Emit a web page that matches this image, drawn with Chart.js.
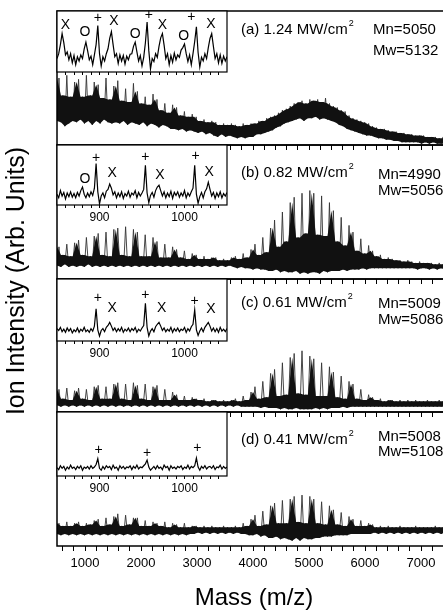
<!DOCTYPE html>
<html>
<head>
<meta charset="utf-8">
<script src="https://cdn.jsdelivr.net/npm/chart.js@4.4.1/dist/chart.umd.min.js"></script>
<style>
  html, body { margin: 0; padding: 0; background: #fff; overflow: hidden; }
  #wrap { position: relative; width: 443px; height: 610px; overflow: hidden; background: #fff; }
  #wrap canvas { position: absolute; left: 0; top: 0; }
</style>
</head>
<body>
<div id="wrap"></div>
<script>
// main spectra: alternating trough / peak read every 35 Da from 500 Da (0-100 = panel height)
const massStart = 500;
const massStep = 35;
const specA = [
  18,50,17,37,14,52,16,36,18,47, 17,49,19,36,16,52,18,37,15,47,
  18,45,16,35,19,50,17,34,16,44, 17,48,16,33,18,42,15,32,17,46,
  16,40,15,31,17,36,14,30,16,38, 15,34,13,26,15,31,14,24,12,30,
  12,28,11,22,12,25,10,21,11,23, 10,21,9,18,10,19,8,17,9,18,
  7,17,6,15,8,16,6,15,7,16, 6,15,5,14,6,16,5,15,6,16,
  6,16,8,18,8,18,9,20,10,21, 11,22,13,24,14,26,16,27,17,29,
  18,31,19,32,20,33,18,31,20,34, 20,33,21,34,19,32,20,35,19,31,
  18,29,17,28,15,26,14,25,12,22, 11,20,10,19,9,18,8,17,7,16,
  7,14,6,13,5,12,5,12,4,11, 4,10,3,10,3,9,2,9,2,8,
  2,8,2,7,2,7,1,7,2,6, 1,6,2,6,1,5,1,6,1,5,
  1
];
const specB = [
  10,24,9,18,11,26,9,17,10,27, 9,29,10,18,9,31,11,17,9,32,
  10,34,9,18,10,35,9,17,10,37, 9,38,10,18,9,39,10,17,9,37,
  10,35,9,17,10,33,9,17,10,31, 9,28,10,16,9,26,10,16,9,24,
  10,22,9,16,10,21,9,15,10,19, 9,18,10,15,9,17,10,15,9,16,
  10,16,9,14,10,15,9,14,10,16, 9,17,8,15,9,19,8,16,8,22,
  7,26,8,18,7,31,7,20,6,38, 6,44,7,24,5,50,6,28,5,57,
  5,61,6,31,4,64,5,34,4,66, 5,64,5,33,4,62,6,32,5,57,
  6,51,6,28,6,46,7,25,6,40, 7,35,7,21,7,30,8,19,7,25,
  8,21,8,17,8,18,8,15,8,16, 8,15,8,14,8,14,8,13,8,14,
  8,13,8,12,7,13,8,12,8,12, 7,12,8,11,7,12,8,11,7,11,
  8
];
const specC = [
  5,17,4,10,5,18,4,9,5,16, 4,18,5,10,4,17,5,9,4,19,
  5,20,4,10,5,19,4,10,5,21, 4,22,5,10,4,21,5,9,4,22,
  5,20,4,10,5,21,4,9,5,19, 4,20,5,9,4,17,5,9,4,15,
  5,13,4,9,5,12,4,9,5,11, 4,10,5,9,4,10,5,8,4,9,
  5,9,4,8,5,9,4,8,5,9, 4,10,5,8,4,12,4,9,4,15,
  4,19,4,10,3,23,4,11,3,29, 3,32,3,12,2,37,3,13,2,41,
  2,44,3,14,2,46,2,13,2,42, 2,40,3,12,2,37,3,12,2,34,
  3,30,3,11,3,27,4,10,3,23, 4,21,4,10,4,17,4,9,4,13,
  4,11,4,9,4,10,4,8,4,9, 4,9,4,8,4,9,4,8,4,9,
  4,8,4,9,4,8,4,8,4,9, 4,8,4,8,4,9,4,8,4,8,
  4
];
const specD = [
  9,17,8,15,9,18,8,15,9,17, 8,18,9,15,8,17,9,16,8,19,
  9,20,8,15,9,21,8,16,9,22, 8,24,9,15,8,23,9,16,8,21,
  9,21,8,15,9,19,8,15,9,18, 8,17,9,15,8,18,9,14,8,17,
  9,16,8,14,9,17,8,14,9,15, 9,15,10,14,9,15,10,14,9,15,
  10,14,9,14,10,15,9,14,10,14, 9,15,10,14,9,17,9,15,8,20,
  8,23,9,15,7,26,8,16,6,30, 6,32,7,17,5,34,6,17,5,35,
  4,37,6,18,4,38,6,17,5,37, 5,35,6,17,6,33,7,16,7,30,
  7,27,8,16,8,25,8,15,8,22, 9,20,9,15,9,19,9,15,9,17,
  9,16,10,14,9,15,10,14,9,15, 10,14,9,14,10,15,9,14,10,14,
  9,14,10,15,9,14,10,14,9,14, 10,14,9,15,10,14,9,14,10,14,
  10
];

// insets: 850-1050 Da read every 2 Da (0-100 = inset height)
const insetStart = 850;
const insetStep = 2;
const insetA = [
  22,30,45,63,48,28,33,20,30,15, 27,12,25,18,28,22,38,49,35,20,
  26,12,28,45,76,30,10,25,18,30, 38,55,66,45,25,30,14,28,18,27,
  13,26,20,29,30,42,49,33,18,27, 10,24,48,82,35,5,22,17,30,24,
  42,56,63,44,22,30,12,27,16,31, 20,28,24,36,40,46,30,17,28,12,
  30,50,74,32,8,24,18,30,22,40, 55,63,42,22,30,15,28,14,26,18,25
];
const insetB = [
  18,12,24,15,21,10,20,14,22,13, 19,12,21,15,24,30,18,12,20,14,
  22,16,28,69,22,2,15,20,12,23, 26,35,28,17,22,12,20,14,22,11,
  19,15,23,13,20,17,24,12,21,15, 20,26,66,20,4,16,21,13,24,30,
  33,24,15,22,12,20,14,23,11,21, 16,22,13,20,15,24,12,20,15,22,
  28,66,18,3,14,21,12,22,27,38, 26,15,21,11,20,14,22,12,19,15,21
];
const insetC = [
  20,17,22,15,19,14,21,16,20,13, 18,15,21,14,19,16,22,15,18,14,
  20,16,24,52,18,8,17,20,15,22, 25,30,24,17,21,15,20,16,22,14,
  19,16,21,15,20,17,22,14,19,16, 21,25,61,22,8,16,20,15,23,27,
  30,24,17,21,15,19,16,22,14,20, 16,21,15,19,17,22,14,20,16,23,
  27,50,18,9,16,21,15,22,26,30, 24,16,21,15,20,14,22,16,19,15,20
];
const insetD = [
  13,10,16,12,15,9,14,11,17,12, 14,10,15,12,16,9,14,12,15,11,
  16,12,14,18,27,12,9,15,11,16, 13,15,10,17,12,14,9,16,12,15,
  11,14,13,16,10,15,12,17,11,14, 13,16,19,25,14,9,12,15,11,16,
  12,14,10,17,13,15,9,16,12,14, 11,15,13,16,10,14,12,17,11,15,
  13,16,28,14,9,15,12,16,11,14, 15,12,16,10,14,13,17,11,15,12,14
];

// peak assignments in the insets: [mass, level, symbol]
const marksA = [[860,76,"X"],[883,65,"O"],[898,88,"+"],[917,83,"X"],[942,62,"O"],
                [958,93,"+"],[974,77,"X"],[999,58,"O"],[1008,90,"+"],[1031,78,"X"]];
const marksB = [[883,43,"O"],[896,78,"+"],[915,53,"X"],[954,80,"+"],[971,49,"X"],[1013,81,"+"],[1029,55,"X"]];
const marksC = [[898,69,"+"],[915,53,"X"],[954,74,"+"],[973,53,"X"],[1012,64,"+"],[1031,51,"X"]];
const marksD = [[899,40,"+"],[956,36,"+"],[1015,43,"+"]];

const tagText = ["(a) 1.24 MW/cm", "(b) 0.82 MW/cm", "(c) 0.61 MW/cm", "(d) 0.41 MW/cm"];
const mnValues = [5050, 4990, 5009, 5008];
const mwValues = [5132, 5056, 5086, 5108];
const massLabels = [1000, 2000, 3000, 4000, 5000, 6000, 7000];
const insetLabels = [900, 1000];

// layout
const W = 460, H = 610;
const FONT = '"Liberation Sans", Arial, sans-serif';
const plotLeft = 57, plotRight = 449;
const panelTop = [11, 145, 279, 412];
const panelBottom = [145, 279, 412, 546];
const insetRight = 227;
const insetBox = [[11, 72], [145, 205], [279, 341], [412, 476]];
const textDy = [[19, 19, 40], [28, 30, 46], [24, 25, 41], [28, 25, 40]];
const mnX = [373, 378, 378, 378];

Chart.defaults.font.family = FONT;
Chart.defaults.color = "#000";

const wrap = document.getElementById("wrap");
function newCtx() {
    const c = document.createElement("canvas");
    c.width = W;
    c.height = H;
    wrap.appendChild(c);
    return c.getContext("2d");
}

// tick marks every `step` inside [from, to]
function tickList(from, to, step) {
    const out = [];
    for (let v = from; v <= to; v += step) out.push({ value: v });
    return out;
}

// dense band under the comb: trough -> lower of the two neighbouring peaks
function bandSets(vals, x0, dx) {
    const lo = [], hi = [];
    for (let i = 0; i < vals.length; i += 2) {
        const l = i > 0 ? vals[i - 1] : vals[i + 1];
        const r = i < vals.length - 1 ? vals[i + 1] : vals[i - 1];
        lo.push({ x: x0 + i * dx, y: vals[i] });
        hi.push({ x: x0 + i * dx, y: Math.min(l, r) });
    }
    return [lo, hi];
}

const framePlugin = {
    id: "frame",
    beforeDatasetsDraw(chart) {
        if (!chart.config.options.whiteBg) return;
        const { ctx, chartArea: a } = chart;
        ctx.save();
        ctx.fillStyle = "#fff";
        ctx.fillRect(a.left, a.top, a.right - a.left, a.bottom - a.top);
        ctx.restore();
    },
    afterDraw(chart) {
        const { ctx, chartArea: a } = chart;
        ctx.save();
        ctx.strokeStyle = "#000";
        ctx.lineWidth = chart.config.options.whiteBg ? 1.2 : 1.5;
        ctx.strokeRect(a.left, a.top, a.right - a.left, a.bottom - a.top);
        ctx.restore();
    }
};

function panelText(k) {
    return {
        id: "panelText" + k,
        afterDraw(chart) {
            const { ctx, chartArea: a } = chart;
            ctx.save();
            ctx.fillStyle = "#000";
            ctx.textBaseline = "middle";
            ctx.font = "15px " + FONT;
            const ty = a.top + textDy[k][0];
            ctx.fillText(tagText[k], 241, ty);
            const w = ctx.measureText(tagText[k]).width;
            ctx.font = "9px " + FONT;
            ctx.fillText("2", 241 + w + 1, ty - 6);
            ctx.font = "15px " + FONT;
            ctx.fillText("Mn=" + mnValues[k], mnX[k], a.top + textDy[k][1]);
            ctx.fillText("Mw=" + mwValues[k], mnX[k], a.top + textDy[k][2]);
            if (k === 3) {
                ctx.textAlign = "center";
                ctx.font = "24px " + FONT;
                ctx.fillText("Mass (m/z)", 254, 598);
                ctx.font = "25px " + FONT;
                ctx.translate(17, 281);
                ctx.rotate(-Math.PI / 2);
                ctx.fillText("Ion Intensity (Arb. Units)", 0, 0);
            }
            ctx.restore();
        }
    };
}

function insetText(marks) {
    return {
        id: "insetText",
        afterDraw(chart) {
            const { ctx } = chart;
            const xs = chart.scales.x, ys = chart.scales.y;
            ctx.save();
            ctx.fillStyle = "#000";
            ctx.font = "14px " + FONT;
            ctx.textAlign = "center";
            ctx.textBaseline = "middle";
            marks.forEach(([m, lv, s]) => {
                ctx.fillText(s, xs.getPixelForValue(m), ys.getPixelForValue(lv));
            });
            ctx.restore();
        }
    };
}

// main panels
[specA, specB, specC, specD].forEach((vals, k) => {
    const last = k === 3;
    const axisH = last ? 30 : 6;
    const [lo, hi] = bandSets(vals, massStart, massStep);
    new Chart(newCtx(), {
        type: "line",
        data: {
            datasets: [
                { data: lo, borderWidth: 0, pointRadius: 0, fill: false },
                { data: hi, borderWidth: 0, pointRadius: 0, fill: "-1", backgroundColor: "#111" },
                {
                    data: vals.map((v, i) => ({ x: massStart + i * massStep, y: v })),
                    borderColor: "#333",
                    borderWidth: 0.9,
                    pointRadius: 0,
                    tension: 0,
                    fill: false
                }
            ]
        },
        options: {
            responsive: false,
            animation: false,
            events: [],
            layout: { padding: { left: plotLeft, right: W - plotRight, top: panelTop[k], bottom: H - panelBottom[k] - axisH } },
            plugins: { legend: { display: false }, tooltip: { enabled: false } },
            scales: {
                x: {
                    type: "linear", min: 500, max: 7500,
                    afterFit: (s) => { s.height = axisH; },
                    afterBuildTicks: (s) => { s.ticks = tickList(600, 7400, 200); },
                    border: { display: false },
                    grid: { drawOnChartArea: false, drawTicks: true, tickLength: 5, color: "#000", lineWidth: 1 },
                    ticks: {
                        display: last, autoSkip: false, maxRotation: 0, padding: 5, font: { size: 13 },
                        callback: (v) => (massLabels.includes(v) ? String(v) : "")
                    }
                },
                y: { display: false, min: 0, max: 100 }
            }
        },
        plugins: [framePlugin, panelText(k)]
    });
});

// insets
[[insetA, marksA], [insetB, marksB], [insetC, marksC], [insetD, marksD]].forEach(([vals, marks], k) => {
    const showLab = k > 0;
    const axisH = showLab ? 22 : 4;
    new Chart(newCtx(), {
        type: "line",
        data: {
            datasets: [{
                data: vals.map((v, i) => ({ x: insetStart + i * insetStep, y: v })),
                borderColor: "#000",
                borderWidth: 1.2,
                pointRadius: 0,
                tension: 0
            }]
        },
        options: {
            responsive: false,
            animation: false,
            events: [],
            whiteBg: true,
            layout: { padding: { left: plotLeft, right: W - insetRight, top: insetBox[k][0], bottom: H - insetBox[k][1] - axisH } },
            plugins: { legend: { display: false }, tooltip: { enabled: false } },
            scales: {
                x: {
                    type: "linear", min: 850, max: 1050,
                    afterFit: (s) => { s.height = axisH; },
                    afterBuildTicks: (s) => { s.ticks = tickList(860, 1040, 10); },
                    border: { display: false },
                    grid: { drawOnChartArea: false, drawTicks: true, tickLength: 3, color: "#000", lineWidth: 1 },
                    ticks: {
                        display: showLab, autoSkip: false, maxRotation: 0, padding: 2, font: { size: 12 },
                        callback: (v) => (insetLabels.includes(v) ? String(v) : "")
                    }
                },
                y: { display: false, min: 0, max: 100 }
            }
        },
        plugins: [framePlugin, insetText(marks)]
    });
});
</script>
</body>
</html>
